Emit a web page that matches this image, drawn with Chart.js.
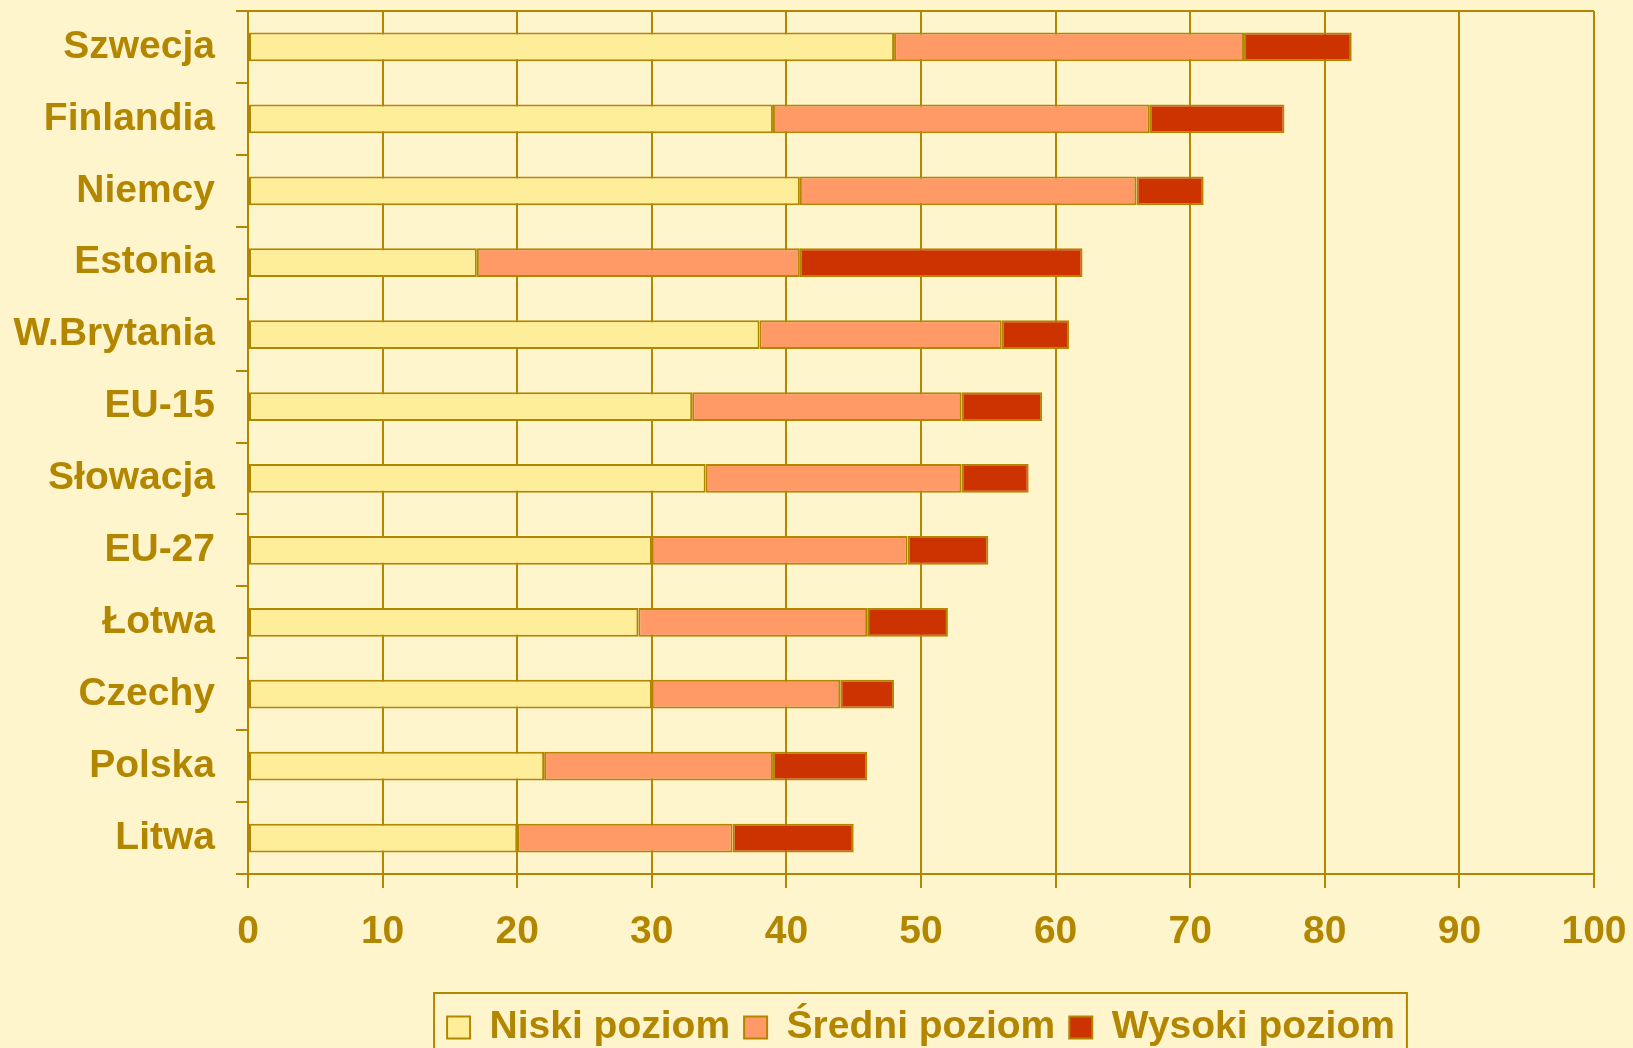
<!DOCTYPE html>
<html>
<head>
<meta charset="utf-8">
<script src="https://cdn.jsdelivr.net/npm/chart.js@4"></script>
<style>
  html, body { margin: 0; padding: 0; background: #FFF5CC; overflow: hidden; }
  #wrap { width: 1633px; height: 1048px; }
</style>
</head>
<body>
<div id="wrap"><canvas id="chart" width="1633" height="1048"></canvas></div>
<script>
var countries = ['Szwecja', 'Finlandia', 'Niemcy', 'Estonia', 'W.Brytania', 'EU-15',
  'Słowacja', 'EU-27', 'Łotwa', 'Czechy', 'Polska', 'Litwa'];
var seriesNames = ['Niski poziom', 'Średni poziom', 'Wysoki poziom'];
var niski = [48, 39, 41, 17, 38, 33, 34, 30, 29, 30, 22, 20];
var sredni = [26, 28, 25, 24, 18, 20, 19, 19, 17, 14, 17, 16];
var wysoki = [8, 10, 5, 21, 5, 6, 5, 6, 6, 4, 7, 9];
var xMin = 0, xMax = 100, xStep = 10;

var gold = '#B38600';
var font = '"Liberation Sans", Arial, sans-serif';

// ramka wokol legendy (w oryginale ucieta dolem)
var legendFrame = {
  id: 'legendFrame',
  afterDraw: function (chart) {
    var lg = chart.legend;
    var boxes = lg && lg.legendHitBoxes;
    if (!boxes || !boxes.length) return;
    var first = boxes[0];
    var last = boxes[boxes.length - 1];
    var ctx = chart.ctx;
    ctx.save();
    ctx.strokeStyle = gold;
    ctx.lineWidth = 2;
    ctx.strokeRect(first.left - 13, lg.top - 1, last.left + last.width - first.left + 25, 120);
    ctx.restore();
  }
};

function noPadding(scale) {
  scale.paddingTop = 0;
  scale.paddingBottom = 0;
  scale.paddingLeft = 0;
  scale.paddingRight = 0;
}

function bars(label, data, color) {
  return {
    label: label,
    data: data,
    backgroundColor: color,
    borderColor: gold,
    borderWidth: 2,
    borderSkipped: false,
    categoryPercentage: 1,
    barPercentage: 0.4
  };
}

new Chart(document.getElementById('chart'), {
  type: 'bar',
  data: {
    labels: countries,
    datasets: [
      bars(seriesNames[0], niski, '#FFEE99'),
      bars(seriesNames[1], sredni, '#FF9966'),
      bars(seriesNames[2], wysoki, '#CC3300')
    ]
  },
  options: {
    indexAxis: 'y',
    responsive: false,
    animation: false,
    devicePixelRatio: 1,
    layout: { padding: { top: 11, right: 39, left: 0, bottom: -9 } },
    scales: {
      x: {
        stacked: true,
        min: xMin,
        max: xMax,
        ticks: {
          stepSize: xStep,
          color: gold,
          padding: 21,
          font: { family: font, size: 39, weight: 'bold' }
        },
        grid: { color: gold, lineWidth: 2, tickLength: 14 },
        border: { color: gold, width: 2 },
        afterFit: function (scale) { scale.height = 120; noPadding(scale); }
      },
      y: {
        stacked: true,
        ticks: {
          color: gold,
          padding: 21,
          font: { family: font, size: 39, weight: 'bold' }
        },
        grid: {
          offset: true,
          lineWidth: 2,
          tickLength: 12,
          tickColor: gold,
          color: function (c) { return c.index === 0 ? gold : 'rgba(0,0,0,0)'; }
        },
        border: { color: gold, width: 2 },
        afterFit: function (scale) { scale.width = 248; noPadding(scale); }
      }
    },
    plugins: {
      legend: {
        position: 'bottom',
        fullSize: false,
        labels: {
          color: gold,
          boxWidth: 23,
          boxHeight: 22,
          padding: 14,
          font: { family: font, size: 39, weight: 'bold' }
        }
      },
      tooltip: { enabled: false }
    }
  },
  plugins: [legendFrame]
});
</script>
</body>
</html>
